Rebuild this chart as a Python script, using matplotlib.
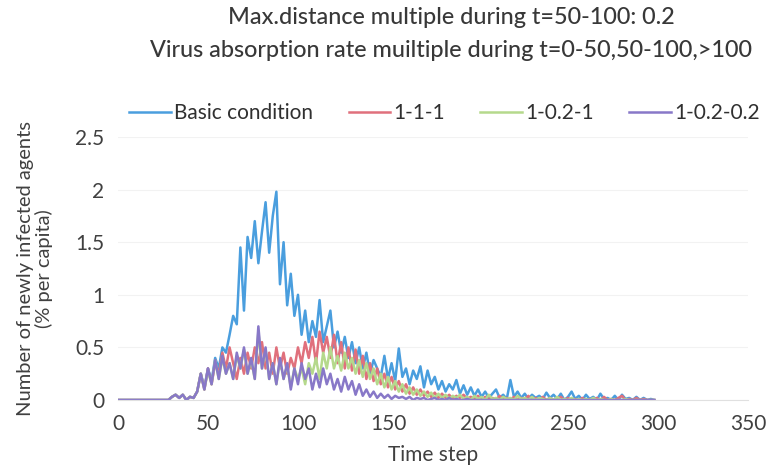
import matplotlib.pyplot as plt
import numpy as np

plt.rcParams['font.family'] = ['Lato', 'DejaVu Sans']

# time steps (every 2nd step)
t = np.arange(0, 300, 2)

basic = [
    0, 0, 0, 0, 0, 0, 0, 0, 0, 0,
    0, 0, 0, 0, 0, 0.03, 0.05, 0.02, 0.05, 0.0,
    0.03, 0.02, 0.08, 0.25, 0.12, 0.3, 0.18, 0.4, 0.3, 0.5,
    0.45, 0.62, 0.8, 0.72, 1.45, 0.85, 1.55, 1.35, 1.7, 1.3,
    1.6, 1.88, 1.4, 1.75, 1.98, 1.1, 1.5, 0.9, 1.2, 0.8,
    1.0, 0.62, 0.85, 0.55, 0.75, 0.6, 0.95, 0.55, 0.7, 0.85,
    0.5, 0.65, 0.45, 0.6, 0.4, 0.55, 0.35, 0.5, 0.3, 0.45,
    0.25, 0.38, 0.3, 0.22, 0.42, 0.2, 0.35, 0.18, 0.49, 0.22,
    0.3, 0.15, 0.28, 0.2, 0.32, 0.12, 0.28, 0.15, 0.22, 0.1,
    0.18, 0.08, 0.15, 0.1, 0.19, 0.06, 0.14, 0.05, 0.12, 0.04,
    0.1, 0.03, 0.08, 0.02, 0.06, 0.1, 0.02, 0.05, 0.01, 0.19,
    0.03, 0.08, 0.02, 0.06, 0.01, 0.05, 0.02, 0.04, 0.01, 0.07,
    0.02, 0.05, 0.01, 0.06, 0.0, 0.03, 0.08, 0.01, 0.04, 0.0,
    0.05, 0.01, 0.03, 0.0, 0.06, 0.01, 0.02, 0.0, 0.04, 0.0,
    0.05, 0.01, 0.02, 0.0, 0.03, 0.0, 0.02, 0.0, 0.01, 0.0,
]

s_1_1_1 = [
    0, 0, 0, 0, 0, 0, 0, 0, 0, 0,
    0, 0, 0, 0, 0, 0.03, 0.05, 0.02, 0.05, 0.0,
    0.03, 0.02, 0.08, 0.25, 0.1, 0.3, 0.15, 0.35, 0.25, 0.45,
    0.3, 0.5, 0.35, 0.2, 0.4, 0.25, 0.45, 0.3, 0.5, 0.35,
    0.55, 0.3, 0.45, 0.25, 0.5, 0.3, 0.45, 0.25, 0.4, 0.3,
    0.5, 0.35, 0.55, 0.4, 0.6, 0.35, 0.65, 0.45, 0.6, 0.4,
    0.62, 0.35, 0.55, 0.3, 0.5, 0.28, 0.48, 0.25, 0.42, 0.2,
    0.35, 0.18, 0.3, 0.15, 0.25, 0.12, 0.22, 0.1, 0.18, 0.08,
    0.15, 0.06, 0.12, 0.05, 0.1, 0.04, 0.08, 0.03, 0.07, 0.02,
    0.06, 0.02, 0.05, 0.01, 0.04, 0.02, 0.05, 0.01, 0.03, 0.01,
    0.04, 0.0, 0.03, 0.01, 0.02, 0.0, 0.04, 0.01, 0.02, 0.0,
    0.03, 0.0, 0.02, 0.01, 0.04, 0.0, 0.02, 0.0, 0.03, 0.0,
    0.02, 0.0, 0.01, 0.03, 0.0, 0.02, 0.0, 0.01, 0.0, 0.02,
    0.0, 0.01, 0.0, 0.02, 0.0, 0.03, 0.0, 0.01, 0.0, 0.02,
    0.04, 0.0, 0.01, 0.0, 0.02, 0.0, 0.01, 0.0, 0.0, 0.0,
]

s_1_02_1 = [
    0, 0, 0, 0, 0, 0, 0, 0, 0, 0,
    0, 0, 0, 0, 0, 0.03, 0.05, 0.02, 0.05, 0.0,
    0.03, 0.02, 0.08, 0.25, 0.1, 0.28, 0.15, 0.38, 0.2, 0.4,
    0.25, 0.35, 0.2, 0.42, 0.3, 0.48, 0.25, 0.38, 0.2, 0.65,
    0.3, 0.48, 0.2, 0.35, 0.15, 0.38, 0.2, 0.33, 0.12, 0.3,
    0.2, 0.3, 0.15, 0.35, 0.25, 0.4, 0.2, 0.45, 0.3, 0.5,
    0.3, 0.42, 0.28, 0.45, 0.3, 0.4, 0.25, 0.38, 0.22, 0.35,
    0.2, 0.3, 0.15, 0.25, 0.12, 0.22, 0.1, 0.18, 0.08, 0.15,
    0.06, 0.12, 0.05, 0.1, 0.04, 0.08, 0.03, 0.07, 0.02, 0.06,
    0.02, 0.05, 0.01, 0.04, 0.02, 0.05, 0.01, 0.03, 0.0, 0.04,
    0.01, 0.03, 0.0, 0.05, 0.01, 0.02, 0.0, 0.03, 0.01, 0.02,
    0.0, 0.04, 0.01, 0.02, 0.0, 0.03, 0.0, 0.02, 0.01, 0.0,
    0.02, 0.0, 0.03, 0.0, 0.01, 0.0, 0.02, 0.0, 0.01, 0.0,
    0.01, 0.0, 0.02, 0.0, 0.01, 0.0, 0.0, 0.01, 0.0, 0.0,
    0.0, 0.01, 0.0, 0.0, 0.0, 0.0, 0.0, 0.0, 0.0, 0.0,
]

s_1_02_02 = [
    0, 0, 0, 0, 0, 0, 0, 0, 0, 0,
    0, 0, 0, 0, 0, 0.03, 0.05, 0.02, 0.05, 0.0,
    0.03, 0.02, 0.08, 0.25, 0.1, 0.3, 0.15, 0.38, 0.2, 0.42,
    0.25, 0.35, 0.2, 0.45, 0.3, 0.5, 0.25, 0.4, 0.2, 0.7,
    0.3, 0.5, 0.2, 0.35, 0.15, 0.4, 0.2, 0.35, 0.1, 0.3,
    0.15, 0.35, 0.2, 0.3, 0.1, 0.25, 0.12, 0.3, 0.15, 0.25,
    0.1, 0.2, 0.08, 0.22, 0.1, 0.18, 0.05, 0.15, 0.04, 0.1,
    0.03, 0.08, 0.02, 0.06, 0.02, 0.05, 0.01, 0.04, 0.02, 0.03,
    0.01, 0.03, 0.0, 0.02, 0.01, 0.02, 0.0, 0.01, 0.02, 0.0,
    0.01, 0.0, 0.02, 0.0, 0.01, 0.0, 0.0, 0.01, 0.0, 0.0,
    0, 0, 0, 0, 0, 0, 0, 0, 0, 0,
    0, 0, 0, 0, 0, 0, 0, 0, 0, 0,
    0, 0, 0, 0, 0, 0, 0, 0, 0, 0,
    0, 0, 0, 0, 0, 0, 0, 0, 0, 0,
    0, 0, 0, 0, 0, 0, 0, 0, 0, 0,
]

labels = ['Basic condition', '1-1-1', '1-0.2-1', '1-0.2-0.2']
colors = ['#4a9ede', '#e0707c', '#b5d98c', '#8878c8']
series = [basic, s_1_1_1, s_1_02_1, s_1_02_02]

fig = plt.figure(figsize=(7.69, 4.69), dpi=100)
ax = fig.add_axes([0.1534, 0.1471, 0.8193, 0.5608])

for y, lab, c in zip(series, labels, colors):
    ax.plot(t, y, color=c, lw=1.8, label=lab)

ax.set_xlim(0, 350)
ax.set_ylim(0, 2.5)
ax.set_xticks(np.arange(0, 351, 50))
ax.set_yticks([0, 0.5, 1, 1.5, 2, 2.5])
ax.set_yticklabels(['0', '0.5', '1', '1.5', '2', '2.5'])
ax.tick_params(length=0, labelsize=15, colors='#404040', pad=10)
ax.grid(axis='y', color='#f2f2f2', lw=0.8)
for s in ['top', 'right', 'left']:
    ax.spines[s].set_visible(False)
ax.spines['bottom'].set_color('#e0e0e0')

ax.set_xlabel('Time step', fontsize=15, color='#404040', labelpad=8)
ax.set_ylabel('Number of newly infected agents\n(% per capita)', fontsize=14.5,
              color='#404040', labelpad=16, linespacing=1.05)

fig.text(0.587, 0.962, 'Max.distance multiple during t=50-100: 0.2',
         ha='center', va='center', fontsize=16.8, color='#383838',
         fontweight='medium')
fig.text(0.587, 0.893, 'Virus absorption rate muiltiple during t=0-50,50-100,>100',
         ha='center', va='center', fontsize=16.8, color='#383838',
         fontweight='medium')

fig.legend(loc='center', bbox_to_anchor=(0.578, 0.759), ncol=4, frameon=False,
           fontsize=15, handlelength=2.0, handletextpad=0.15, columnspacing=1.7,
           labelcolor='#303030')

fig.savefig('out.png', dpi=100)
